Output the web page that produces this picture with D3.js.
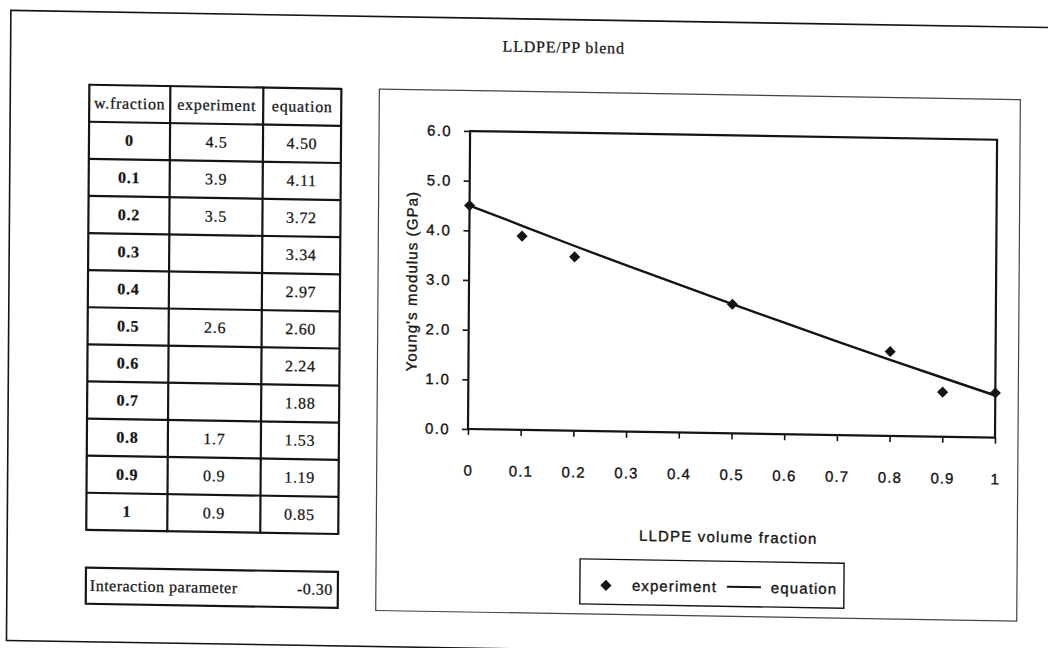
<!DOCTYPE html>
<html>
<head>
<meta charset="utf-8">
<script src="https://cdn.jsdelivr.net/npm/d3@7"></script>
<style>
  body { margin: 0; background: #fff; }
  svg { display: block; }
</style>
</head>
<body>
<svg id="sheet" width="1048" height="648"></svg>
<script>
// LLDPE/PP blend: measured and calculated Young's modulus
const fractions   = [0, 0.1, 0.2, 0.3, 0.4, 0.5, 0.6, 0.7, 0.8, 0.9, 1];
const experiment  = [4.5, 3.9, 3.5, null, null, 2.6, null, null, 1.7, 0.9, 0.9];
const equation    = [4.50, 4.11, 3.72, 3.34, 2.97, 2.60, 2.24, 1.88, 1.53, 1.19, 0.85];
const tableHeaders = ["w.fraction", "experiment", "equation"];
const interactionLabel = "Interaction parameter";
const interactionParameter = -0.30;
const yTickValues = [0, 1, 2, 3, 4, 5, 6];
const xTickValues = [0, 0.1, 0.2, 0.3, 0.4, 0.5, 0.6, 0.7, 0.8, 0.9, 1];
const legendLabels = ["experiment", "equation"];

const svg = d3.select("#sheet");
svg.append("rect").attr("width", 1048).attr("height", 648).attr("fill", "#fff");

// the printed sheet sits slightly askew
const page = svg.append("g")
  .attr("transform", "matrix(1, 0.0165, -0.007, 1, 3.0, -7.7)");

const ink = "#141414";
const serif = "'Liberation Serif', 'Times New Roman', serif";
const sans = "'Liberation Sans', Arial, sans-serif";

// printed text is slightly heavy; a hairline outline thickens the glyphs
function inked(sel, w) {
  return sel.attr("fill", ink).attr("stroke", ink).attr("stroke-width", w == null ? 0.35 : w);
}
// plain hyphen-minus for negative numbers, as printed
const fmt2 = v => d3.format(".2f")(v).replace("\u2212", "-");

// outer sheet frame
page.append("rect")
  .attr("x", 8).attr("y", 18).attr("width", 1120).attr("height", 630)
  .attr("fill", "none").attr("stroke", ink).attr("stroke-width", 1.6);

// sheet title
inked(page.append("text")
  .attr("x", 561).attr("y", 51)
  .attr("text-anchor", "middle")
  .attr("font-family", serif).attr("font-size", 16)
  .style("letter-spacing", "0.8px")
  .text("LLDPE/PP blend"), 0.25);

// ---------- data table ----------
const colEdges = [87, 168, 261, 339];
const tableTop = 91, headerH = 37, rowH = 37.1;
const table = page.append("g");
const nRows = fractions.length;
const tableBottom = tableTop + headerH + nRows * rowH;

const rowsData = fractions.map((f, i) => [
  String(f),
  experiment[i] == null ? "" : d3.format(".1f")(experiment[i]),
  fmt2(equation[i])
]);

// horizontal rules
const hLines = [tableTop, tableTop + headerH].concat(d3.range(1, nRows + 1).map(i => tableTop + headerH + i * rowH));
table.selectAll("line.h").data(hLines).join("line")
  .attr("x1", colEdges[0]).attr("x2", colEdges[3])
  .attr("y1", d => d).attr("y2", d => d)
  .attr("stroke", ink).attr("stroke-width", 2.2);
// vertical rules
table.selectAll("line.v").data(colEdges).join("line")
  .attr("x1", d => d).attr("x2", d => d)
  .attr("y1", tableTop - 1).attr("y2", tableBottom + 1)
  .attr("stroke", ink).attr("stroke-width", 2.2);

const colCenter = i => (colEdges[i] + colEdges[i + 1]) / 2;
inked(table.selectAll("text.head").data(tableHeaders).join("text")
  .attr("x", (d, i) => colCenter(i)).attr("y", tableTop + headerH / 2 + 5)
  .attr("text-anchor", "middle")
  .attr("font-family", serif).attr("font-size", 16)
  .style("letter-spacing", "0.7px")
  .text(d => d), 0.25);

rowsData.forEach((row, r) => {
  const cy = tableTop + headerH + r * rowH + rowH / 2 + 5;
  inked(table.selectAll(null).data(row).join("text")
    .attr("x", (d, i) => colCenter(i)).attr("y", cy)
    .attr("text-anchor", "middle")
    .attr("font-family", serif).attr("font-size", 16)
    .attr("font-weight", (d, i) => i === 0 ? 700 : 400)
    .style("letter-spacing", "0.7px")
    .text(d => d), 0.25);
});

// interaction parameter box
const ipBox = page.append("g");
ipBox.append("rect")
  .attr("x", 87).attr("y", 574).attr("width", 252).attr("height", 36)
  .attr("fill", "none").attr("stroke", ink).attr("stroke-width", 2.2);
inked(ipBox.append("text")
  .attr("x", 91).attr("y", 597)
  .attr("font-family", serif).attr("font-size", 16)
  .style("letter-spacing", "0.5px")
  .text(interactionLabel), 0.25);
inked(ipBox.append("text")
  .attr("x", 334).attr("y", 597)
  .attr("text-anchor", "end")
  .attr("font-family", serif).attr("font-size", 16)
  .style("letter-spacing", "0.5px")
  .text(fmt2(interactionParameter)), 0.25);

// ---------- chart ----------
page.append("rect")
  .attr("x", 377).attr("y", 90.5).attr("width", 641).attr("height", 521.5)
  .attr("fill", "none").attr("stroke", "#444").attr("stroke-width", 1.2);

const plot = { left: 468, right: 995, top: 131, bottom: 429 };
const x = d3.scaleLinear().domain([0, 1]).range([plot.left, plot.right]);
const y = d3.scaleLinear().domain([0, 6]).range([plot.bottom, plot.top]);

const chart = page.append("g");

// plot frame
chart.append("rect")
  .attr("x", plot.left).attr("y", plot.top)
  .attr("width", plot.right - plot.left).attr("height", plot.bottom - plot.top)
  .attr("fill", "none").attr("stroke", ink).attr("stroke-width", 2.2);

// y axis
const yAxis = chart.append("g")
  .attr("transform", `translate(${plot.left},0)`)
  .call(d3.axisLeft(y).tickValues(yTickValues).tickFormat(d3.format(".1f")).tickSize(6).tickPadding(12));
yAxis.select(".domain").remove();
yAxis.selectAll("line").attr("stroke", ink).attr("stroke-width", 1.6);
inked(yAxis.selectAll("text")
  .attr("font-family", sans).attr("font-size", 15)
  .style("letter-spacing", "1.4px"));

// x axis
const xAxis = chart.append("g")
  .attr("transform", `translate(0,${plot.bottom})`)
  .call(d3.axisBottom(x).tickValues(xTickValues).tickFormat(d3.format("")).tickSize(6).tickPadding(30));
xAxis.select(".domain").remove();
xAxis.selectAll("line").attr("stroke", ink).attr("stroke-width", 1.6);
inked(xAxis.selectAll("text")
  .attr("font-family", sans).attr("font-size", 15)
  .style("letter-spacing", "1.1px"));

// axis titles
inked(chart.append("text")
  .attr("transform", "translate(416,282) rotate(-90)")
  .attr("text-anchor", "middle")
  .attr("font-family", sans).attr("font-size", 15)
  .style("letter-spacing", "1.1px")
  .text("Young's modulus (GPa)"));
inked(chart.append("text")
  .attr("x", 729).attr("y", 538)
  .attr("text-anchor", "middle")
  .attr("font-family", sans).attr("font-size", 15)
  .style("letter-spacing", "1.2px")
  .text("LLDPE volume fraction"));

// equation curve
const pts = fractions.map((f, i) => [f, equation[i]]);
chart.append("path")
  .attr("d", d3.line().x(d => x(d[0])).y(d => y(d[1]))(pts))
  .attr("fill", "none").attr("stroke", ink).attr("stroke-width", 2.4);

// experimental points
const diamond = d3.symbol(d3.symbolSquare, 62)();
const expPts = fractions.map((f, i) => [f, experiment[i]]).filter(d => d[1] != null);
chart.selectAll("path.exp").data(expPts).join("path")
  .attr("class", "exp")
  .attr("d", diamond)
  .attr("transform", d => `translate(${x(d[0])},${y(d[1])}) rotate(45)`)
  .attr("fill", ink);

// legend
const legend = chart.append("g");
legend.append("rect")
  .attr("x", 581).attr("y", 557).attr("width", 264).attr("height", 45)
  .attr("fill", "#fff").attr("stroke", ink).attr("stroke-width", 1.4);
legend.append("path")
  .attr("d", diamond)
  .attr("transform", "translate(607,583) rotate(45)")
  .attr("fill", ink);
inked(legend.append("text")
  .attr("x", 633).attr("y", 588)
  .attr("font-family", sans).attr("font-size", 15)
  .style("letter-spacing", "1.1px")
  .text(legendLabels[0]));
legend.append("line")
  .attr("x1", 728).attr("x2", 762).attr("y1", 582.5).attr("y2", 582.5)
  .attr("stroke", ink).attr("stroke-width", 2);
inked(legend.append("text")
  .attr("x", 772).attr("y", 588)
  .attr("font-family", sans).attr("font-size", 15)
  .style("letter-spacing", "1.1px")
  .text(legendLabels[1]));
</script>
</body>
</html>
